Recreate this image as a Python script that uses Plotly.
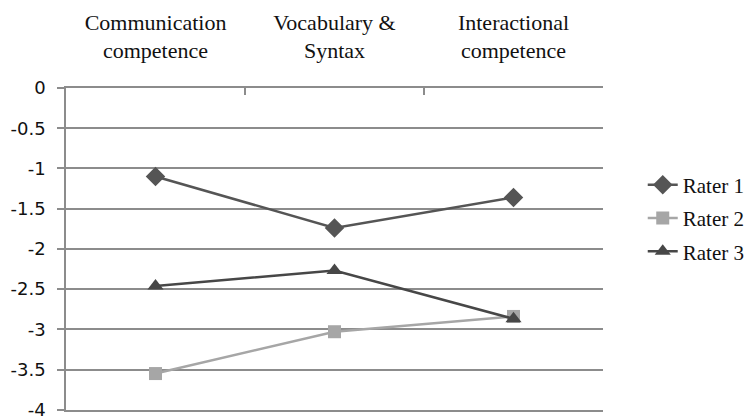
import plotly.graph_objects as go

categories = ["Communication<br>competence", "Vocabulary &amp;<br>Syntax", "Interactional<br>competence"]
rater1 = [-1.10, -1.74, -1.36]
rater2 = [-3.55, -3.03, -2.84]
rater3 = [-2.46, -2.27, -2.87]
y_tick_vals = [0, -0.5, -1, -1.5, -2, -2.5, -3, -3.5, -4]
y_tick_text = ["0", "-0.5", "-1", "-1.5", "-2", "-2.5", "-3", "-3.5", "-4"]

series = [
    ("Rater 1", rater1, "#555555", "diamond", 15),
    ("Rater 2", rater2, "#a6a6a6", "square", 13),
    ("Rater 3", rater3, "#474747", "triangle-up", 14),
]

fig = go.Figure()
for i, (name, vals, col, sym, sz) in enumerate(series):
    fig.add_trace(go.Scatter(
        x=categories, y=vals, name=name, mode="lines+markers",
        line=dict(color=col, width=2.5),
        marker=dict(symbol=sym, size=sz, color=col, line=dict(width=0)),
        legendgroup="g%d" % i,
    ))

grid = "#8c8c8c"
# page body has an 8px default margin, so the figure is sized/offset for that
fig.update_layout(
    width=745, height=408,
    margin=dict(l=58, r=150, t=80, b=6, autoexpand=False),
    paper_bgcolor="white", plot_bgcolor="white",
    showlegend=True,
    legend=dict(
        x=1.074, xanchor="left", y=0.596, yanchor="middle",
        font=dict(family="Liberation Serif", size=21, color="#111111"),
        tracegroupgap=3, traceorder="grouped",
        bgcolor="rgba(0,0,0,0)",
    ),
    xaxis=dict(
        type="category", side="top", range=[-0.5, 2.5], automargin=False,
        tickson="boundaries", ticks="inside", ticklen=7, tickwidth=1.5, tickcolor=grid,
        showgrid=False, showline=True, linecolor=grid, linewidth=1.5, mirror=True,
        tickfont=dict(family="Liberation Serif", size=22, color="#111111"),
        ticklabelstandoff=19,
        zeroline=False, fixedrange=True,
    ),
    yaxis=dict(
        range=[-4.003, 0], tickvals=y_tick_vals, ticktext=y_tick_text, automargin=False,
        ticks="outside", ticklen=7, tickwidth=1.5, tickcolor=grid,
        showgrid=True, gridcolor=grid, gridwidth=1.5,
        showline=True, linecolor=grid, linewidth=1.5,
        zeroline=False, ticklabelstandoff=8, ticklabeloverflow="allow",
        tickfont=dict(family="DejaVu Sans", size=18, color="#111111"),
        fixedrange=True,
    ),
)

fig.write_html("out.html")
